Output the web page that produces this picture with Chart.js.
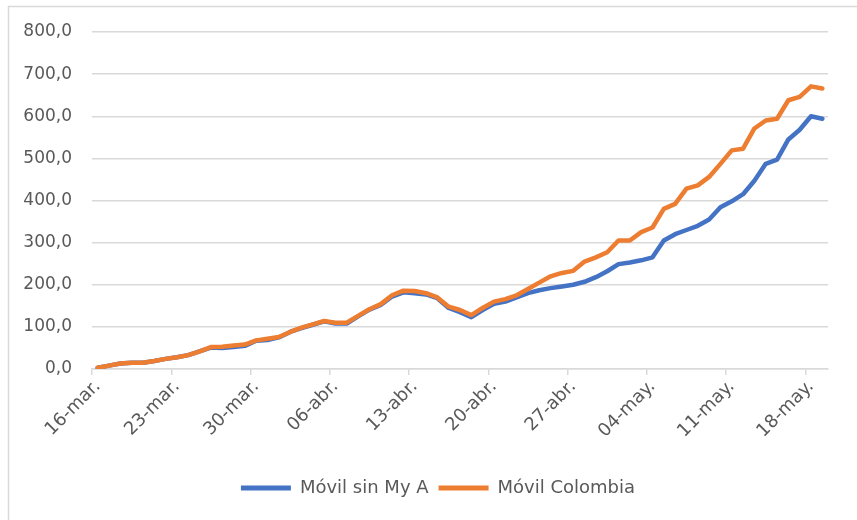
<!DOCTYPE html>
<html>
<head>
<meta charset="utf-8">
<script src="https://cdn.jsdelivr.net/npm/chart.js@4/dist/chart.umd.min.js"></script>
<style>
html,body{margin:0;padding:0;background:#fff;}
#wrap{position:relative;width:857px;height:520px;}
</style>
</head>
<body>
<div id="wrap"><canvas id="c" width="857" height="520"></canvas></div>
<script>
// Daily dates 16-mar .. 19-may
const categories = [
  "16-mar.","17-mar.","18-mar.","19-mar.","20-mar.","21-mar.","22-mar.","23-mar.","24-mar.","25-mar.",
  "26-mar.","27-mar.","28-mar.","29-mar.","30-mar.","31-mar.","01-abr.","02-abr.","03-abr.","04-abr.",
  "05-abr.","06-abr.","07-abr.","08-abr.","09-abr.","10-abr.","11-abr.","12-abr.","13-abr.","14-abr.",
  "15-abr.","16-abr.","17-abr.","18-abr.","19-abr.","20-abr.","21-abr.","22-abr.","23-abr.","24-abr.",
  "25-abr.","26-abr.","27-abr.","28-abr.","29-abr.","30-abr.","01-may.","02-may.","03-may.","04-may.",
  "05-may.","06-may.","07-may.","08-may.","09-may.","10-may.","11-may.","12-may.","13-may.","14-may.",
  "15-may.","16-may.","17-may.","18-may.","19-may."
];

const movilSinMyA = [
  3, 8, 13, 15, 15, 19, 24, 28, 33, 42,
  51, 50, 52, 55, 67, 69, 75, 88, 97, 105,
  113, 108, 108, 125, 141, 152, 172, 182, 180, 177,
  168, 145, 135, 123, 140, 155, 160, 170, 180, 187,
  192, 196, 200, 207, 218, 232, 249, 253, 258, 265,
  305, 320, 330, 340, 355, 384, 398, 415, 447, 487,
  497, 545, 568, 600, 594
];

const movilColombia = [
  3, 8, 13, 15, 15, 19, 24, 28, 33, 42,
  52, 53, 56, 58, 68, 72, 76, 88, 98, 106,
  114, 110, 110, 126, 142, 154, 175, 186, 185, 180,
  170, 148, 140, 128, 145, 160, 166, 175, 190, 205,
  220, 228, 233, 255, 265, 277, 305, 305, 325, 336,
  380, 392, 428, 436, 456, 487, 519, 523, 571, 590,
  594, 638, 646, 671, 666
];

const yTicks = [0, 100, 200, 300, 400, 500, 600, 700, 800];
const seriesNames = ["Móvil sin My A", "Móvil Colombia"];

const TEXT = '#595959';
const GRID = '#d9d9d9';
const FONT = 'DejaVu Sans';

const frame = {
  id: 'frame',
  beforeDraw(chart) {
    const c = chart.ctx;
    c.save();
    c.fillStyle = '#fff';
    c.fillRect(0, 0, chart.width, chart.height);
    c.strokeStyle = GRID;
    c.lineWidth = 1.5;
    c.strokeRect(8.5, 6.5, 1000, 1000);
    c.restore();
  }
};

const legendShift = {
  id: 'legendShift',
  afterLayout(chart) {
    const lg = chart.legend;
    if (lg) { lg.left += 24; lg.right += 24; }
  }
};

new Chart(document.getElementById('c'), {
  type: 'line',
  data: {
    labels: categories,
    datasets: [
      { label: seriesNames[0], data: movilSinMyA, borderColor: '#4472C4', backgroundColor: '#4472C4', order: 1 },
      { label: seriesNames[1], data: movilColombia, borderColor: '#ED7D31', backgroundColor: '#ED7D31', order: 0 }
    ]
  },
  options: {
    responsive: false,
    animation: false,
    devicePixelRatio: 1,
    layout: { padding: { left: 0, right: 29, top: 32, bottom: 13 } },
    elements: {
      line: { borderWidth: 4.5, tension: 0, borderJoinStyle: 'round', borderCapStyle: 'round' },
      point: { radius: 0, hoverRadius: 0 }
    },
    plugins: {
      tooltip: { enabled: false },
      legend: {
        position: 'bottom',
        labels: {
          color: TEXT,
          font: { family: FONT, size: 18 },
          boxWidth: 50,
          boxHeight: 5,
          padding: 10,
          sort: (a, b) => a.datasetIndex - b.datasetIndex,
          generateLabels(chart) {
            return chart.data.datasets.map((d, i) => ({
              text: d.label, fillStyle: d.borderColor, strokeStyle: d.borderColor,
              lineWidth: 0, datasetIndex: i, hidden: false, fontColor: TEXT
            }));
          }
        }
      }
    },
    scales: {
      x: {
        offset: true,
        grid: {
          offset: true,
          drawOnChartArea: false,
          drawTicks: true,
          tickLength: 6,
          lineWidth: 1.5,
          color: (ctx) => (ctx.index % 7 === 0 ? GRID : 'rgba(0,0,0,0)')
        },
        border: { display: true, color: GRID, width: 1.5 },
        ticks: {
          autoSkip: false,
          minRotation: 45,
          maxRotation: 45,
          padding: 1,
          color: TEXT,
          font: { family: FONT, size: 18 },
          callback: function (v, i) { return i % 7 === 0 ? categories[i] : ''; }
        },
        afterFit(scale) { scale.height = 100; }
      },
      y: {
        min: 0,
        max: 800,
        afterBuildTicks(scale) { scale.ticks = yTicks.map(v => ({ value: v })); },
        grid: { color: GRID, lineWidth: 1.5, drawTicks: false },
        border: { display: false },
        ticks: {
          padding: 20,
          color: TEXT,
          font: { family: FONT, size: 17 },
          callback: (v) => v.toFixed(1).replace('.', ',')
        },
        afterFit(scale) { scale.width = 92; }
      }
    }
  },
  plugins: [frame, legendShift]
});
</script>
</body>
</html>
